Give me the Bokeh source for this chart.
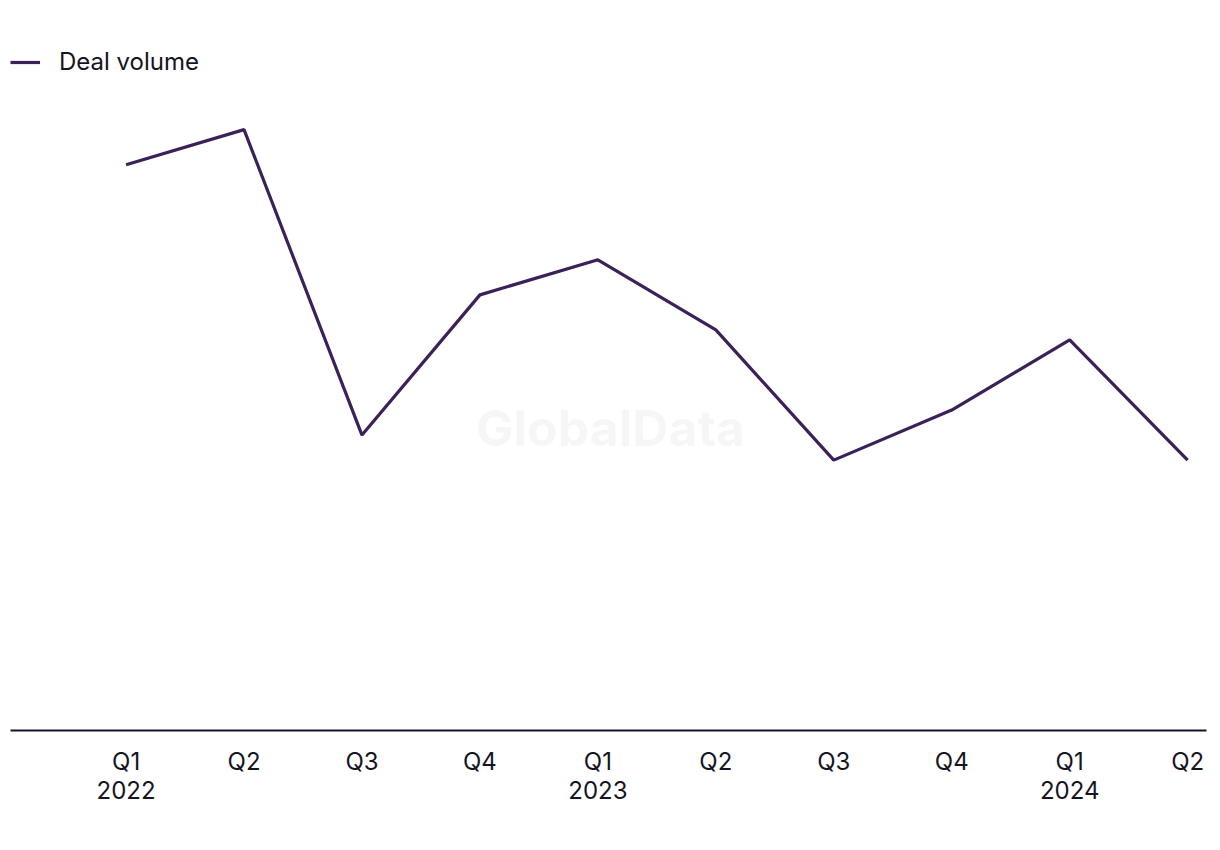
from bokeh.plotting import figure
from bokeh.models import Range1d, Legend, LegendItem, Label, FixedTicker
from bokeh.embed import file_html
from bokeh.resources import INLINE

quarters = ["Q1", "Q2", "Q3", "Q4", "Q1", "Q2", "Q3", "Q4", "Q1", "Q2"]
years = ["2022", "", "", "", "2023", "", "", "", "2024", ""]
deal_volume = [113, 120, 59, 87, 94, 80, 54, 64, 78, 54]

xs = list(range(1, len(quarters) + 1))
FONT = "Inter"

p = figure(width=1220, height=850, output_backend="svg", toolbar_location=None,
           x_range=Range1d(0.02, 10.16), y_range=Range1d(0, 136.4),
           min_border_left=10, min_border_right=14, min_border_top=47, min_border_bottom=120)
p.outline_line_color = None
p.xgrid.visible = False
p.ygrid.visible = False
p.yaxis.visible = False
p.background_fill_color = "white"

wm = Label(x=600, y=303, x_units="screen", y_units="screen", text="GlobalData",
           text_font=FONT, text_font_style="bold", text_font_size="50px",
           text_color="#000000", text_alpha=0.035, text_align="center", text_baseline="middle")
p.add_layout(wm)

r = p.line(xs, deal_volume, line_color="#3a2159", line_width=3.2)

p.xaxis.ticker = FixedTicker(ticks=xs)
p.xaxis.major_label_overrides = {x: (q + ("\n" + y if y else "")) for x, q, y in zip(xs, quarters, years)}
p.xaxis.axis_line_color = "#15122b"
p.xaxis.axis_line_width = 2
p.xaxis.major_tick_line_color = None
p.xaxis.minor_tick_line_color = None
p.xaxis.major_label_text_font = FONT
p.xaxis.major_label_text_font_size = "24px"
p.xaxis.major_label_text_color = "#15141f"
p.xaxis.major_label_text_line_height = 1.03
p.xaxis.major_label_standoff = 10

legend = Legend(items=[LegendItem(label="Deal volume", renderers=[r])],
                orientation="horizontal")
legend.location = "top_left"
legend.margin = 0
legend.padding = 0
legend.border_line_alpha = 0
legend.background_fill_alpha = 0
legend.glyph_width = 30
legend.label_standoff = 19
legend.label_text_font = FONT
legend.label_text_font_size = "24px"
legend.label_text_color = "#15141f"
p.add_layout(legend)

open("out.html", "w").write(file_html(p, INLINE))
